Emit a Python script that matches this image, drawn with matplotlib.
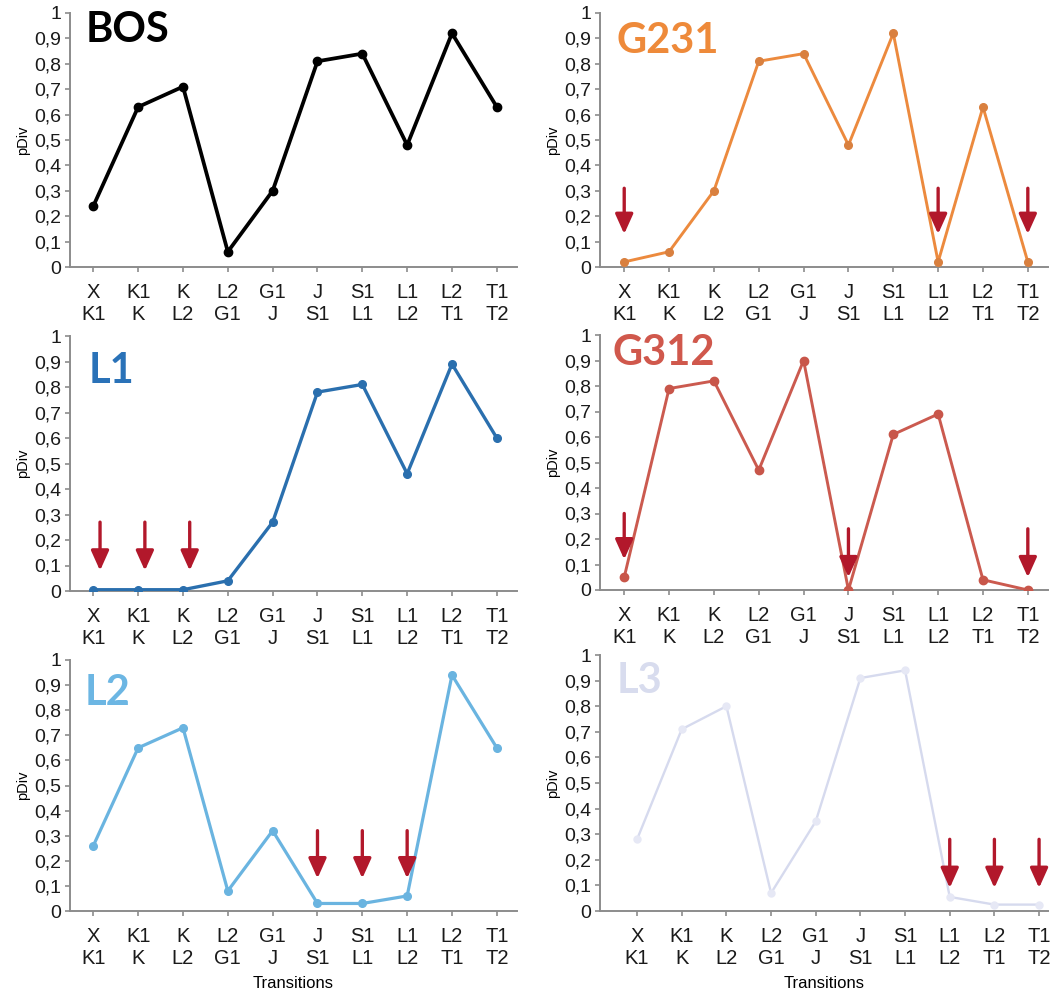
import matplotlib
matplotlib.use("Agg")
import matplotlib.pyplot as plt

plt.rcParams["font.family"] = ["Liberation Sans", "DejaVu Sans"]

# ---------------- data ----------------
trans_from = ["X", "K1", "K", "L2", "G1", "J", "S1", "L1", "L2", "T1"]
trans_to = ["K1", "K", "L2", "G1", "J", "S1", "L1", "L2", "T1", "T2"]

ytick_vals = [0, 0.1, 0.2, 0.3, 0.4, 0.5, 0.6, 0.7, 0.8, 0.9, 1.0]
ytick_labels = ["0", "0,1", "0,2", "0,3", "0,4", "0,5", "0,6", "0,7", "0,8", "0,9", "1"]

bos = [0.24, 0.63, 0.71, 0.06, 0.30, 0.81, 0.84, 0.48, 0.92, 0.63]
g231 = [0.02, 0.06, 0.30, 0.81, 0.84, 0.48, 0.92, 0.02, 0.63, 0.02]
l1 = [0.005, 0.005, 0.005, 0.04, 0.27, 0.78, 0.81, 0.46, 0.89, 0.60]
g312 = [0.05, 0.79, 0.82, 0.47, 0.90, 0.0, 0.61, 0.69, 0.04, 0.0]
l2 = [0.26, 0.65, 0.73, 0.08, 0.32, 0.03, 0.03, 0.06, 0.94, 0.65]
l3 = [0.28, 0.71, 0.80, 0.07, 0.35, 0.91, 0.94, 0.055, 0.025, 0.025]

# arrows: x position, top y, tip y
g231_arrow_x = [0, 7, 9]
g231_arrow_top = [0.31, 0.31, 0.31]
g231_arrow_tip = [0.13, 0.13, 0.13]
l1_arrow_x = [0.15, 1.15, 2.15]
l1_arrow_top = [0.27, 0.27, 0.27]
l1_arrow_tip = [0.08, 0.08, 0.08]
g312_arrow_x = [0, 5, 9]
g312_arrow_top = [0.30, 0.24, 0.24]
g312_arrow_tip = [0.12, 0.05, 0.05]
l2_arrow_x = [5, 6, 7]
l2_arrow_top = [0.32, 0.32, 0.32]
l2_arrow_tip = [0.13, 0.13, 0.13]
l3_arrow_x = [7, 8, 9]
l3_arrow_top = [0.28, 0.28, 0.28]
l3_arrow_tip = [0.09, 0.09, 0.09]

# ---------------- figure ----------------
W, H = 1061, 993
fig = plt.figure(figsize=(W / 100, H / 100), dpi=100)

SPINE = "#8c8c8c"
ARROW = "#b2182b"


def px_axes(left, top, right, bottom):
    return fig.add_axes([left / W, 1 - bottom / H, (right - left) / W, (bottom - top) / H])


panels = [
    ("BOS", bos, "#000000", "#000000", 2.7, 6.0, (70, 13, 517, 267), (-0.52, 9.45), (86, 42), "#000000", None, False),
    ("G231", g231, "#ec8a3e", "#d9803f", 2.1, 5.5, (600, 13, 1048, 267), (-0.54, 9.45), (616, 53), "#ee8a3a",
     (g231_arrow_x, g231_arrow_top, g231_arrow_tip), False),
    ("L1", l1, "#2a6fae", "#2a6fae", 2.4, 5.5, (70, 336, 517, 591), (-0.52, 9.45), (89, 383), "#2a72b8",
     (l1_arrow_x, l1_arrow_top, l1_arrow_tip), False),
    ("G312", g312, "#cb5a4f", "#c8564a", 2.1, 6.0, (600, 335, 1048, 590), (-0.54, 9.45), (612, 365), "#d0584c",
     (g312_arrow_x, g312_arrow_top, g312_arrow_tip), False),
    ("L2", l2, "#6ab4e0", "#6ab4e0", 2.3, 5.5, (70, 660, 517, 911), (-0.52, 9.45), (85, 705), "#6cb6e3",
     (l2_arrow_x, l2_arrow_top, l2_arrow_tip), True),
    ("L3", l3, "#d6daee", "#e6e8f5", 1.7, 5.0, (600, 655, 1048, 911), (-0.83, 9.2), (617, 693), "#d8dcee",
     (l3_arrow_x, l3_arrow_top, l3_arrow_tip), True),
]

xpos = list(range(len(trans_from)))
xlabels = [f"{a}\n{b}" for a, b in zip(trans_from, trans_to)]

for name, vals, col, mfc, lw, ms, box, xlim, tpos, tcol, arrows, show_xlabel in panels:
    ax = px_axes(*box)
    ax.plot(xpos, vals, color=col, lw=lw, marker="o", ms=ms, mfc=mfc, mec=mfc, zorder=3,
            solid_joinstyle="round")
    ax.set_xlim(*xlim)
    ax.set_ylim(0, 1)
    ax.set_yticks(ytick_vals)
    ax.set_yticklabels(ytick_labels, fontsize=14)
    ax.set_xticks(xpos)
    ax.set_xticklabels(xlabels, linespacing=1.2, fontsize=14.5)
    for s in ("top", "right"):
        ax.spines[s].set_visible(False)
    for s in ("left", "bottom"):
        ax.spines[s].set_color(SPINE)
        ax.spines[s].set_linewidth(1.4)
    ax.tick_params(axis="both", colors=SPINE, length=3.5, width=1.2, labelcolor="#1a1a1a")
    ax.tick_params(axis="y", pad=3)
    ax.tick_params(axis="x", pad=8)
    ax.set_ylabel("pDiv", fontsize=10.5, labelpad=3)
    if show_xlabel:
        ax.set_xlabel("Transitions", fontsize=12, labelpad=6)
    if arrows is not None:
        for x, top, tip in zip(*arrows):
            ax.annotate("", xy=(x, tip), xytext=(x, top),
                        arrowprops=dict(arrowstyle="-|>,head_length=0.6,head_width=0.27",
                                        mutation_scale=20, shrinkA=0, shrinkB=0,
                                        lw=2.4, color=ARROW), zorder=5)
    fig.text(tpos[0] / W, 1 - tpos[1] / H, name, fontsize=30, fontweight="bold",
             family=["Lato", "DejaVu Sans"], color=tcol, ha="left", va="baseline")

fig.savefig("out.png", dpi=100)
